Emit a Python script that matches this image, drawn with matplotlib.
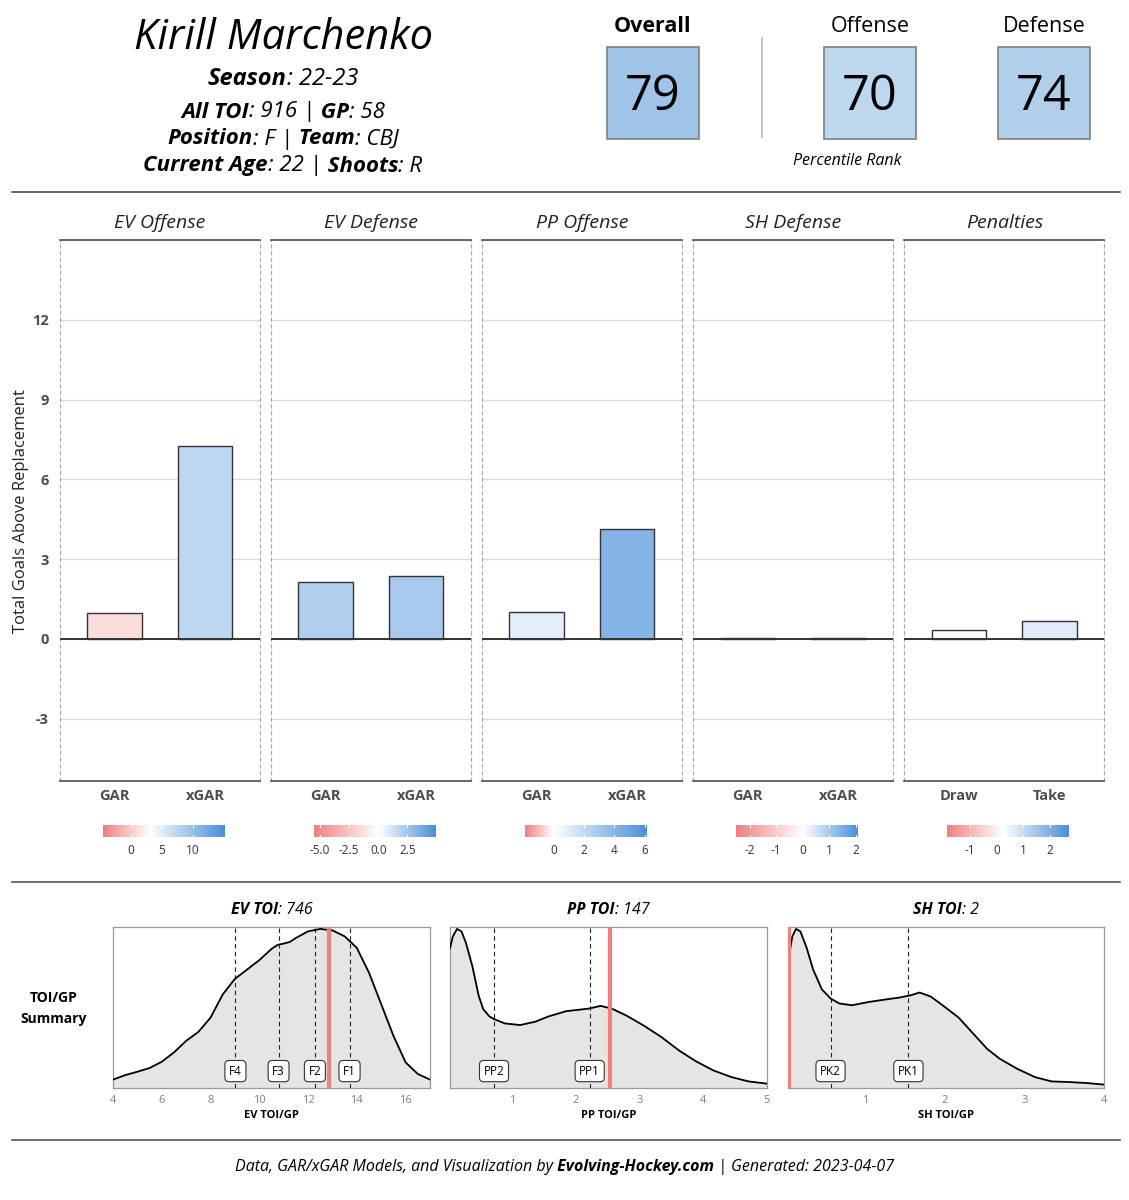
import numpy as np
import matplotlib
matplotlib.use("Agg")
import matplotlib.pyplot as plt
from matplotlib.colors import LinearSegmentedColormap, TwoSlopeNorm
from matplotlib.patches import Rectangle

plt.rcParams['font.family'] = ['Open Sans', 'DejaVu Sans']

W, H = 1129, 1200

player = "Kirill Marchenko"
season = "22-23"
all_toi = 916
games = 58
position = "F"
team = "CBJ"
age = 22
shoots = "R"

rank_names = ["Overall", "Offense", "Defense"]
rank_values = [79, 70, 74]

panel_names = ["EV Offense", "EV Defense", "PP Offense", "SH Defense", "Penalties"]
bar_labels = [["GAR", "xGAR"], ["GAR", "xGAR"], ["GAR", "xGAR"],
              ["GAR", "xGAR"], ["Draw", "Take"]]
ev_offense = [0.98, 7.26]
ev_defense = [2.14, 2.37]
pp_offense = [1.0, 4.14]
sh_defense = [0.02, 0.03]
penalties = [0.34, 0.66]
panel_values = [ev_offense, ev_defense, pp_offense, sh_defense, penalties]

# colour scale of each panel (low end, white point, high end) and its ticks
cbar_low = [-4.5, -5.5, -1.85, -2.52, -1.85]
cbar_mid = [3.0, 0.0, 0.0, 0.0, 0.25]
cbar_high = [15.0, 4.9, 6.1, 2.06, 2.72]
cbar_ticks = [[0, 5, 10], [-5.0, -2.5, 0.0, 2.5], [0, 2, 4, 6],
              [-2, -1, 0, 1, 2], [-1, 0, 1, 2]]
cbar_fmt = ["{:.0f}", "{:.1f}", "{:.0f}", "{:.0f}", "{:.0f}"]

ev_toi = 746
pp_toi = 147
sh_toi = 2

ev_x = [4, 4.5, 5, 5.5, 6, 6.5, 7, 7.5, 8, 8.5, 9, 9.5, 10, 10.5, 10.75, 11,
        11.25, 11.5, 12, 12.5, 13, 13.5, 14, 14.5, 15, 15.5, 16, 16.5, 17]
ev_y = [0.052, 0.080, 0.101, 0.124, 0.163, 0.221, 0.293, 0.348, 0.437, 0.581,
        0.678, 0.736, 0.794, 0.864, 0.889, 0.897, 0.907, 0.932, 0.973, 0.988,
        0.979, 0.942, 0.870, 0.715, 0.520, 0.324, 0.159, 0.087, 0.052]
pp_x = [0.03, 0.075, 0.14, 0.21, 0.28, 0.38, 0.48, 0.55, 0.65, 0.72, 0.89,
        1.13, 1.37, 1.57, 1.85, 2.05, 2.22, 2.39, 2.56, 2.80, 3.07, 3.35, 3.62,
        3.89, 4.16, 4.44, 4.71, 5.0]
pp_y = [0.87, 0.942, 0.988, 0.973, 0.901, 0.757, 0.572, 0.490, 0.444, 0.428,
        0.401, 0.391, 0.412, 0.444, 0.477, 0.486, 0.494, 0.510, 0.494, 0.449,
        0.387, 0.315, 0.233, 0.165, 0.109, 0.068, 0.041, 0.027]
sh_x = [0.03, 0.08, 0.125, 0.18, 0.26, 0.34, 0.45, 0.56, 0.67, 0.83, 1.05,
        1.27, 1.43, 1.57, 1.68, 1.82, 1.98, 2.17, 2.36, 2.53, 2.69, 2.91, 3.13,
        3.34, 3.56, 3.78, 4.0]
sh_y = [0.80, 0.942, 0.988, 0.973, 0.870, 0.737, 0.613, 0.556, 0.525, 0.514,
        0.535, 0.551, 0.562, 0.576, 0.593, 0.568, 0.510, 0.438, 0.335, 0.243,
        0.181, 0.119, 0.068, 0.041, 0.037, 0.031, 0.021]

ev_lines = [9.02, 10.79, 12.28, 13.70]
ev_line_labels = ["F4", "F3", "F2", "F1"]
pp_lines = [0.72, 2.22]
pp_line_labels = ["PP2", "PP1"]
sh_lines = [0.56, 1.54]
sh_line_labels = ["PK2", "PK1"]

# ---- styles ----
rank_colors = ["#9fc4e7", "#bdd7ee", "#b0cfeb"]
gar_cmap = LinearSegmentedColormap.from_list("gar", ["#F08080", "#FFFFFF", "#4A90D9"])
DARK = "#4d4d4d"

fig = plt.figure(figsize=(W / 100, H / 100), dpi=100)
renderer = fig.canvas.get_renderer()

# overlay in pixel coordinates for header, rules and footer
over = fig.add_axes([0, 0, 1, 1])
over.set_xlim(0, W)
over.set_ylim(H, 0)
over.axis("off")


def px_axes(x0, y0, x1, y1):
    return fig.add_axes([x0 / W, 1 - y1 / H, (x1 - x0) / W, (y1 - y0) / H])


def rich_text(x, y, parts, size, color="black"):
    # parts are (text, bold) pieces, all italic, centred as one line at x
    objs = []
    for s, bold in parts:
        objs.append(over.text(0, y, s, fontsize=size, color=color,
                              fontweight="bold" if bold else "normal",
                              fontstyle="italic", ha="left", va="center"))
    widths = [o.get_window_extent(renderer).width for o in objs]
    start = x - sum(widths) / 2
    for o, w in zip(objs, widths):
        o.set_x(start)
        start += w


# header
over.text(283, 38, player, fontsize=30, fontstyle="italic", ha="center", va="center")
rich_text(283, 79, [("Season", True), (": " + season, False)], 17)
rich_text(283, 112, [("All TOI", True), (": {} |".format(all_toi), False),
                     (" GP", True), (": {}".format(games), False)], 16)
rich_text(283, 139, [("Position", True), (": {} |".format(position), False),
                     (" Team", True), (": {}".format(team), False)], 16)
rich_text(283, 166, [("Current Age", True), (": {} |".format(age), False),
                     (" Shoots", True), (": {}".format(shoots), False)], 16)

box_left = [607, 824, 998]
for name, val, col, bx in zip(rank_names, rank_values, rank_colors, box_left):
    over.add_patch(Rectangle((bx, 47), 92, 92, facecolor=col,
                             edgecolor="#7f7f7f", lw=1.2))
    over.text(bx + 46, 97, str(val), fontsize=35, ha="center", va="center")
    over.text(bx + 46, 26, name, fontsize=15.5, ha="center", va="center",
              fontweight="bold" if name == "Overall" else "normal")
over.plot([762, 762], [38, 137], color="#bbbbbb", lw=1.3)
over.text(847, 161, "Percentile Rank", fontsize=11.5, fontstyle="italic",
          ha="center", va="center")

for ry in [192, 882, 1140]:
    over.plot([12, 1120], [ry, ry], color="#444444", lw=1.1)

# ---- GAR bar panels ----
fig.text(21 / W, 1 - 511 / H, "Total Goals Above Replacement", rotation=90,
         fontsize=12, ha="center", va="center", color="#222222")

cb_left = [102.5, 314, 525, 736, 947.3]
for i, name in enumerate(panel_names):
    x0 = 60 + i * 211.1
    ax = px_axes(x0, 240, x0 + 199.5, 781)
    vals = panel_values[i]
    norm = TwoSlopeNorm(vcenter=cbar_mid[i], vmin=cbar_low[i], vmax=cbar_high[i])
    ax.bar([1, 2], vals, width=0.6, color=[gar_cmap(norm(v)) for v in vals],
           edgecolor="#333333", lw=1.0, zorder=2)
    ax.axhline(0, color="#333333", lw=1.4, zorder=3)
    ax.set_xlim(0.4, 2.6)
    ax.set_ylim(-5.34, 15.0)
    ax.set_yticks([-3, 0, 3, 6, 9, 12])
    ax.grid(axis="y", color="#d9d9d9", lw=0.9, zorder=0)
    ax.set_xticks([1, 2])
    ax.set_xticklabels(bar_labels[i], fontsize=10.5, fontweight="bold", color=DARK)
    ax.tick_params(length=0, pad=6)
    if i == 0:
        ax.set_yticklabels(["-3", "0", "3", "6", "9", "12"], fontsize=10.5,
                           fontweight="bold", color=DARK)
        ax.tick_params(axis="y", pad=8)
    else:
        ax.set_yticklabels([])
    for side in ["top", "bottom"]:
        ax.spines[side].set_color(DARK)
        ax.spines[side].set_linewidth(1.2)
    for side in ["left", "right"]:
        ax.spines[side].set_color("#aaaaaa")
        ax.spines[side].set_linewidth(0.8)
        ax.spines[side].set_linestyle((0, (3, 3)))
    over.text(x0 + 100, 223, name, fontsize=14, fontstyle="italic",
              ha="center", va="center", color="#222222")

    # colour legend under the panel
    cax = px_axes(cb_left[i], 825, cb_left[i] + 121.5, 837)
    grad = np.linspace(cbar_low[i], cbar_high[i], 256)
    cax.imshow(grad[None, :], cmap=gar_cmap, norm=norm, aspect="auto",
               extent=(cbar_low[i], cbar_high[i], 0, 1))
    for t in cbar_ticks[i]:
        cax.plot([t, t], [0, 0.2], color="white", lw=0.8)
        cax.plot([t, t], [0.8, 1], color="white", lw=0.8)
    cax.set_xlim(cbar_low[i], cbar_high[i])
    cax.set_ylim(0, 1)
    cax.set_yticks([])
    cax.set_xticks(cbar_ticks[i])
    cax.set_xticklabels([cbar_fmt[i].format(t) for t in cbar_ticks[i]],
                        fontsize=8.5, color="#333333")
    cax.tick_params(length=0, pad=5)
    for sp in cax.spines.values():
        sp.set_visible(False)

# ---- TOI/GP density panels ----
over.text(54, 998, "TOI/GP", fontsize=10, fontweight="bold", ha="center", va="center")
over.text(54, 1019, "Summary", fontsize=10, fontweight="bold", ha="center", va="center")

dens = [
    (113, 430, ev_x, ev_y, (4, 17), [4, 6, 8, 10, 12, 14, 16], ev_lines,
     ev_line_labels, ev_toi, "EV TOI", "EV TOI/GP"),
    (450, 767, pp_x, pp_y, (0.03, 5.0), [1, 2, 3, 4, 5], pp_lines,
     pp_line_labels, pp_toi, "PP TOI", "PP TOI/GP"),
    (788, 1104, sh_x, sh_y, (0.025, 4.0), [1, 2, 3, 4], sh_lines,
     sh_line_labels, sh_toi, "SH TOI", "SH TOI/GP"),
]
for (x0, x1, xs, ys, xlim, ticks, lines, labels, toi, title, xlabel) in dens:
    ax = px_axes(x0, 927, x1, 1088)
    ax.fill_between(xs, ys, 0, color="#e5e5e5", zorder=1)
    ax.plot(xs, ys, color="black", lw=1.3, zorder=3, solid_joinstyle="round")
    for lx, lab in zip(lines, labels):
        ax.axvline(lx, color="#222222", lw=0.8, ls=(0, (4, 3)), zorder=2)
        ax.text(lx, 0.105, lab, fontsize=8.5, ha="center", va="center", zorder=5,
                bbox=dict(boxstyle="round,pad=0.35", fc="white", ec="#333333", lw=0.8))
    ax.axvline(toi / games, color="#F08080", lw=3, zorder=4)
    ax.set_xlim(*xlim)
    ax.set_ylim(0, 1.0)
    ax.set_yticks([])
    ax.set_xticks(ticks)
    ax.set_xticklabels([str(t) for t in ticks], fontsize=8, color="#7f7f7f")
    ax.tick_params(axis="x", length=0, pad=5)
    ax.set_xlabel(xlabel, fontsize=8, fontweight="bold", labelpad=3)
    for sp in ax.spines.values():
        sp.set_color("#999999")
        sp.set_linewidth(0.9)
    rich_text((x0 + x1) / 2, 910, [(title, True), (": {}".format(toi), False)], 11.5)

# footer
rich_text(565, 1167, [("Data, GAR/xGAR Models, and Visualization by", False),
                      (" Evolving-Hockey.com", True),
                      (" | Generated: 2023-04-07", False)], 11.5)

fig.savefig("out.png", dpi=100)
